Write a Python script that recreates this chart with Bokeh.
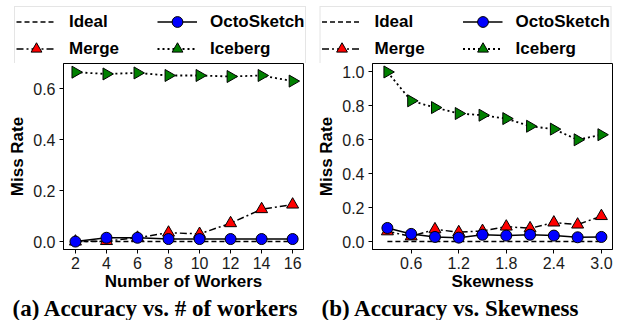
import math
from bokeh.plotting import figure
from bokeh.layouts import row, column
from bokeh.models import Legend, LegendItem, Title, Range1d, FixedTicker, PrintfTickFormatter
from bokeh.embed import file_html
from bokeh.resources import INLINE

# ---- data (a) ----
workers = [2, 4, 6, 8, 10, 12, 14, 16]
ideal_a = [0, 0, 0, 0, 0, 0, 0, 0]
octo_a = [0.0, 0.015, 0.015, 0.01, 0.01, 0.01, 0.01, 0.01]
merge_a = [0.0, 0.002, 0.015, 0.035, 0.03, 0.072, 0.127, 0.145]
iceberg_a = [0.664, 0.657, 0.661, 0.651, 0.651, 0.647, 0.651, 0.629]
xticks_a = [2, 4, 6, 8, 10, 12, 14, 16]
yticks_a = [0.0, 0.2, 0.4, 0.6]

# ---- data (b) ----
skew = [0.3, 0.6, 0.9, 1.2, 1.5, 1.8, 2.1, 2.4, 2.7, 3.0]
ideal_b = [0, 0, 0, 0, 0, 0, 0, 0, 0, 0]
octo_b = [0.08, 0.045, 0.027, 0.023, 0.04, 0.035, 0.04, 0.035, 0.025, 0.027]
merge_b = [0.06, 0.03, 0.072, 0.055, 0.062, 0.088, 0.078, 0.112, 0.1, 0.15]
iceberg_b = [1.0, 0.83, 0.79, 0.755, 0.745, 0.725, 0.68, 0.663, 0.60, 0.63]
xticks_b = [0.6, 1.2, 1.8, 2.4, 3.0]
yticks_b = [0.0, 0.2, 0.4, 0.6, 0.8, 1.0]

series_names = ["Ideal", "Merge", "OctoSketch", "Iceberg"]

SANS = "Liberation Sans"
SERIF = "Liberation Serif"

LINE_STYLE = {
    "Ideal": dict(line_color="black", line_width=1.5, line_dash="5 3"),
    "OctoSketch": dict(line_color="black", line_width=1.5),
    "Merge": dict(line_color="black", line_width=1.5, line_dash="7 3 2 3"),
    "Iceberg": dict(line_color="black", line_width=1.8, line_dash="2 3"),
}
MARK_STYLE = {
    "Iceberg": dict(marker="triangle", angle=-math.pi / 2, size=12,
                    fill_color="#008000", line_color="black", line_width=1),
    "Merge": dict(marker="triangle", size=12,
                  fill_color="#ff0000", line_color="black", line_width=1),
    "OctoSketch": dict(marker="circle", size=11,
                       fill_color="#0000ff", line_color="black", line_width=1),
}


def draw_series(p, x, ys):
    rends = {}
    for name in ["Ideal", "OctoSketch", "Merge", "Iceberg"]:
        rends[name] = [p.line(x, ys[name], **LINE_STYLE[name])]
    for name in ["Iceberg", "Merge", "OctoSketch"]:
        rends[name].append(p.scatter(x, ys[name], **MARK_STYLE[name]))
    return rends


def make_legend(rends, loc):
    legend = Legend(items=[LegendItem(label=n, renderers=rends[n]) for n in series_names],
                    ncols=2, location=loc)
    legend.padding = 1
    legend.spacing = -4
    legend.margin = 6
    legend.glyph_width = 40
    legend.glyph_height = 27
    legend.label_height = 27
    legend.label_width = 88
    legend.label_standoff = 13
    legend.label_text_font = SANS
    legend.label_text_font_size = "17px"
    legend.label_text_font_style = "bold"
    legend.label_text_color = "black"
    legend.border_line_color = "#cccccc"
    legend.border_line_width = 1
    legend.background_fill_alpha = 1
    return legend


def make(x, ys, xr, yr, xt, yt, xfmt, xlabel, caption, bl, br):
    p = figure(width=10, height=10, frame_width=240, frame_height=186,
               x_range=Range1d(*xr), y_range=Range1d(*yr),
               output_backend="svg", toolbar_location=None,
               min_border_left=bl, min_border_right=br, min_border_top=0,
               min_border_bottom=0)
    p.grid.visible = False
    p.outline_line_color = "black"
    p.outline_line_width = 1
    p.outline_line_alpha = 1
    p.background_fill_color = "white"
    p.border_fill_color = "white"

    draw_series(p, x, ys)

    for ax in (p.xaxis[0], p.yaxis[0]):
        ax.axis_line_color = "black"
        ax.major_tick_line_color = "black"
        ax.major_tick_in = 0
        ax.major_tick_out = 4
        ax.minor_tick_line_color = None
        ax.major_label_text_font = SANS
        ax.major_label_text_font_size = "16px"
        ax.major_label_text_color = "#1a1a1a"
        ax.axis_label_text_font = SANS
        ax.axis_label_text_font_size = "17px"
        ax.axis_label_text_font_style = "bold"
        ax.axis_label_text_color = "black"
    p.xaxis.ticker = FixedTicker(ticks=xt)
    p.yaxis.ticker = FixedTicker(ticks=yt)
    p.xaxis.formatter = PrintfTickFormatter(format=xfmt)
    p.yaxis.formatter = PrintfTickFormatter(format="%.1f")
    p.xaxis.major_label_standoff = 3
    p.yaxis.major_label_standoff = 4
    p.xaxis.axis_label = xlabel
    p.yaxis.axis_label = "Miss Rate"
    p.xaxis.axis_label_standoff = 0
    p.yaxis.axis_label_standoff = 3

    t = Title(text=caption, align="left", offset=-51, text_font=SERIF,
              text_font_size="23px", text_font_style="bold", text_color="black",
              standoff=0)
    p.add_layout(t, "below")
    return p


ys_a = {"Ideal": ideal_a, "OctoSketch": octo_a, "Merge": merge_a, "Iceberg": iceberg_a}
ys_b = {"Ideal": ideal_b, "OctoSketch": octo_b, "Merge": merge_b, "Iceberg": iceberg_b}

pa = make(workers, ys_a, (1.23, 16.7), (-0.031, 0.698), xticks_a, yticks_a, "%d",
          "Number of Workers", "(a) Accuracy vs. # of workers", 63, 6)
pb = make(skew, ys_b, (0.112, 3.14), (-0.047, 1.05), xticks_b, yticks_b, "%.1f",
          "Skewness", "(b) Accuracy vs. Skewness", 63, 6)

# legend strip: same series, plotted out of view so only the legend shows
lf = figure(width=618, height=63, x_range=Range1d(1000, 1001), y_range=Range1d(1000, 1001),
            output_backend="svg", toolbar_location=None,
            x_axis_type=None, y_axis_type=None,
            min_border_left=8, min_border_right=0, min_border_top=0, min_border_bottom=0)
lf.grid.visible = False
lf.outline_line_color = None
lf.background_fill_color = "white"
lf.border_fill_color = "white"
lf.add_layout(make_legend(draw_series(lf, workers, ys_a), "top_left"), "center")
lf.add_layout(make_legend(draw_series(lf, skew, ys_b), "top_right"), "center")

layout = column(lf, row(pa, pb))
open("out.html", "w").write(file_html(layout, INLINE))
